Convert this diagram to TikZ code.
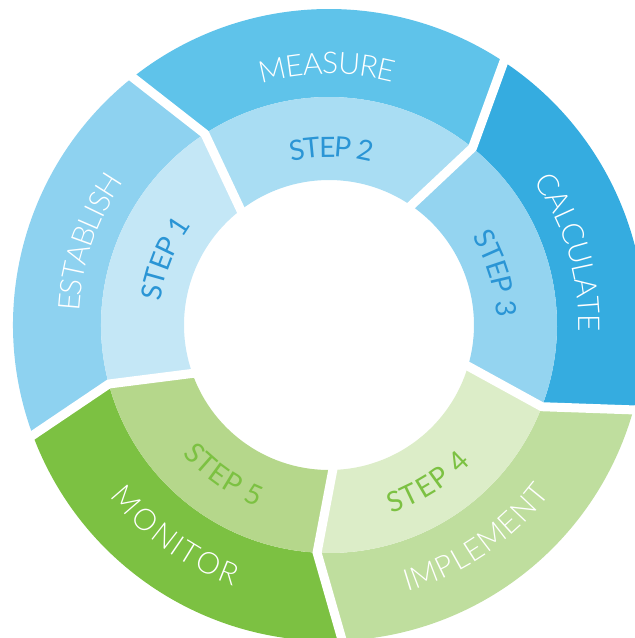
\documentclass[tikz,border=0pt]{standalone}
\usepackage{fontspec}
\setmainfont{Lato}
\newfontfamily\lightfont{Lato Light}
\usetikzlibrary{decorations.text,calc}

% ring colours: outer band / inner band for each step
\definecolor{estOut}{HTML}{8ED2F0}
\definecolor{estIn}{HTML}{C4E7F6}
\definecolor{meaOut}{HTML}{5FC3EA}
\definecolor{meaIn}{HTML}{A9DDF3}
\definecolor{calOut}{HTML}{35ACE0}
\definecolor{calIn}{HTML}{94D4F0}
\definecolor{impOut}{HTML}{BFDE9E}
\definecolor{impIn}{HTML}{DCEDC8}
\definecolor{monOut}{HTML}{7CC142}
\definecolor{monIn}{HTML}{B5D78B}
\definecolor{stepBlue}{HTML}{2A95D5}
\definecolor{stepGreen}{HTML}{7CC142}

% radii of the ring (outer edge, band split, inner edge)
\def\Ro{316}
\def\Rm{228}
\def\Ri{145}

% one chevron segment starting at boundary angle #1, spanning 72 degrees
\newcommand\ringpart[3]{%
  \pgfmathsetmacro\segEnd{#1+72}%
  \fill[#2] (#1:\Ro) arc[start angle=#1, end angle=\segEnd, radius=\Ro]
     -- (\segEnd-6:\Rm) arc[start angle=\segEnd-6, end angle=#1-6, radius=\Rm] -- cycle;
  \fill[#3] (#1-6:\Rm) arc[start angle=#1-6, end angle=\segEnd-6, radius=\Rm]
     -- (\segEnd-1.5:\Ri) arc[start angle=\segEnd-1.5, end angle=#1-1.5, radius=\Ri] -- cycle;
}

% white gap along boundary #1 (name suffix #2)
\newcommand\ringgap[2]{%
  \coordinate (o#2) at (#1:\Ro+14);
  \coordinate (k#2) at (#1-6:\Rm);
  \coordinate (i#2) at (#1-1.5:\Ri);
  \draw[gapline] (o#2) -- (k#2) -- ($(k#2)!1.3!(i#2)$);
}

% text bent along an arc: radius, start angle, end angle, character style, text
\newcommand\arclabel[5]{%
  \path[decorate, decoration={text effects along path, text={#5},
     text effects/.cd, text along path, fit text to path, characters={#4}}]
     (#2:#1) arc[start angle=#2, end angle=#3, radius=#1];
}

\tikzset{
  gapline/.style={draw=white, line width=9pt, line join=miter},
  bandtext/.style={text=white, font=\lightfont\fontsize{30}{34}\selectfont},
  stepbluetext/.style={text=stepBlue, font=\fontsize{28}{32}\selectfont},
  stepgreentext/.style={text=stepGreen, font=\fontsize{28}{32}\selectfont},
}

\begin{document}
\begin{tikzpicture}[x=1pt, y=1pt]
\useasboundingbox (-329,-313) rectangle (306,325);
\clip (-329,-313) rectangle (306,325);

% segments, counterclockwise from the bottom
\ringpart{-87}{impOut}{impIn}
\ringpart{-15}{calOut}{calIn}
\ringpart{57}{meaOut}{meaIn}
\ringpart{129}{estOut}{estIn}
\ringpart{201}{monOut}{monIn}

% gaps between segments
\ringgap{-87}{a}
\ringgap{-15}{b}
\ringgap{57}{c}
\ringgap{129}{d}
\ringgap{201}{e}

% labels on the upper half read clockwise
\arclabel{250}{177}{145}{bandtext}{ESTABLISH}
\arclabel{170}{172}{144}{stepbluetext}{STEP 1}
\arclabel{251}{105.7}{75.3}{bandtext}{MEASURE}
\arclabel{168}{103}{75.5}{stepbluetext}{STEP 2}
\arclabel{250}{35}{-1.5}{bandtext}{CALCULATE}
\arclabel{168}{31.6}{2.6}{stepbluetext}{STEP 3}

% labels on the lower half read counterclockwise
\arclabel{195}{221.4}{248.5}{stepgreentext}{STEP 5}
\arclabel{278}{218}{250}{bandtext}{MONITOR}
\arclabel{198}{288.3}{315.8}{stepgreentext}{STEP 4}
\arclabel{278}{286.4}{322.7}{bandtext}{IMPLEMENT}
\end{tikzpicture}
\end{document}
